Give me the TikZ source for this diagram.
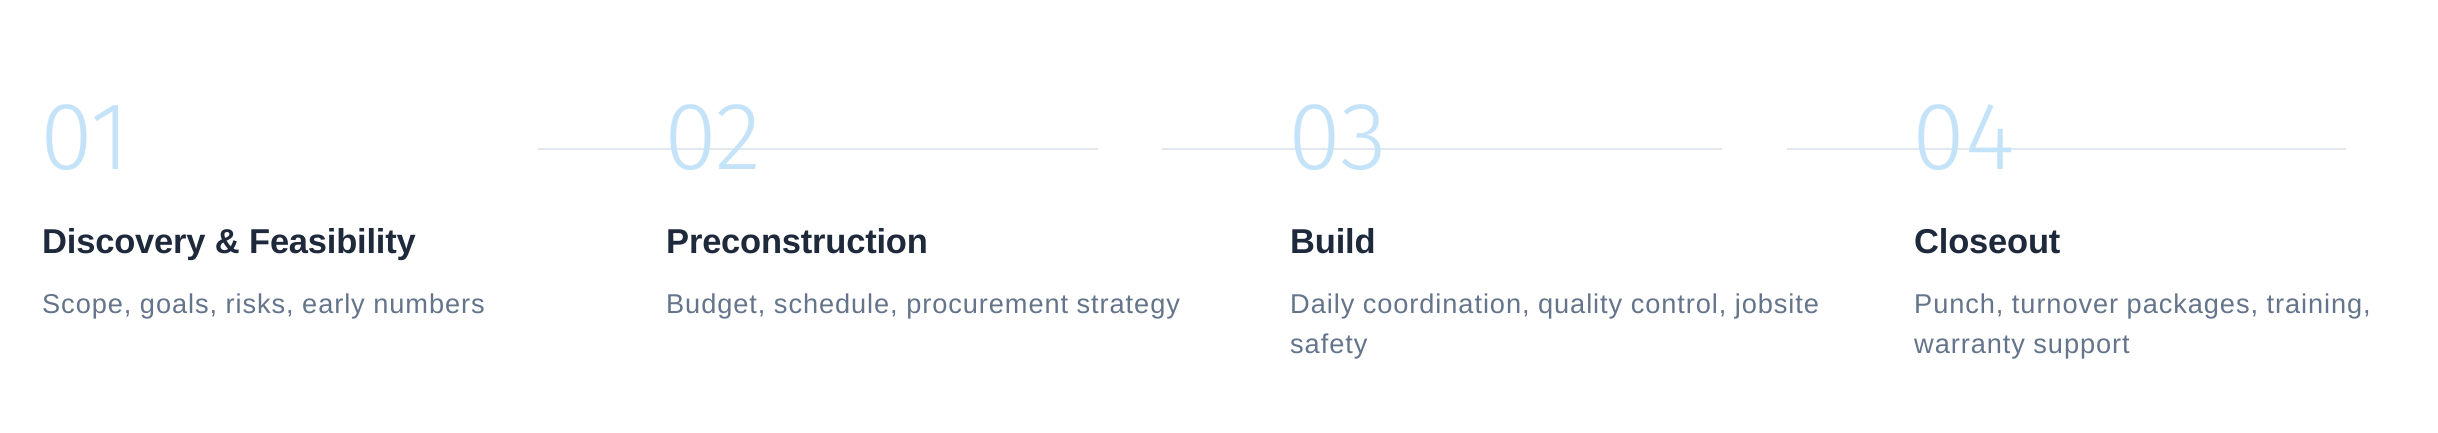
\documentclass[tikz,border=0pt]{standalone}
\usepackage{fontspec}
\setmainfont{Liberation Sans}
\newfontfamily\digitfont{Fira Sans Light}
\newfontfamily\titlefont{Liberation Sans}[LetterSpace=-0.6]
\newfontfamily\descfont{Liberation Sans}[LetterSpace=3.4]
\definecolor{numc}{HTML}{C4E3F9}
\definecolor{linec}{HTML}{E2E8F0}
\definecolor{ttlc}{HTML}{1E293B}
\definecolor{dscc}{HTML}{64748B}
\begin{document}
\begin{tikzpicture}[x=1pt,y=-1pt,
  num/.style={anchor=base west, inner sep=0pt, text=numc, font=\digitfont\fontsize{96}{96}\selectfont},
  ttl/.style={anchor=base west, inner sep=0pt, text=ttlc, font=\titlefont\bfseries\fontsize{34.5}{40}\selectfont},
  dsc/.style={anchor=base west, inner sep=0pt, text=dscc, font=\descfont\fontsize{27.2}{40}\selectfont},
  sep/.style={draw=linec, line width=2pt}]
\fill[white] (0,0) rectangle (2438,432);
\useasboundingbox (0,0) rectangle (2438,432);
% connector lines
\coordinate (l1a) at (538,149); \coordinate (l1b) at (1098,149);
\coordinate (l2a) at (1162,149); \coordinate (l2b) at (1722,149);
\coordinate (l3a) at (1787,149); \coordinate (l3b) at (2346,149);
\draw[sep] (l1a) -- (l1b);
\draw[sep] (l2a) -- (l2b);
\draw[sep] (l3a) -- (l3b);
% numbers
\node[num] (n1) at (40,169) {01};
\node[num] (n2) at (664,169) {02};
\node[num] (n3) at (1288,169) {03};
\node[num] (n4) at (1912,169) {04};
% titles
\node[ttl] (t1) at (42,253) {Discovery \& Feasibility};
\node[ttl] (t2) at (666,253) {Preconstruction};
\node[ttl] (t3) at (1290,253) {Build};
\node[ttl] (t4) at (1914,253) {Closeout};
% descriptions
\node[dsc] (d1) at (42,313) {Scope, goals, risks, early numbers};
\node[dsc] (d2) at (666,313) {Budget, schedule, procurement strategy};
\node[dsc] (d3a) at (1290,313) {Daily coordination, quality control, jobsite};
\node[dsc] (d3b) at (1290,353) {safety};
\node[dsc] (d4a) at (1914,313) {Punch, turnover packages, training,};
\node[dsc] (d4b) at (1914,353) {warranty support};
\end{tikzpicture}
\end{document}
